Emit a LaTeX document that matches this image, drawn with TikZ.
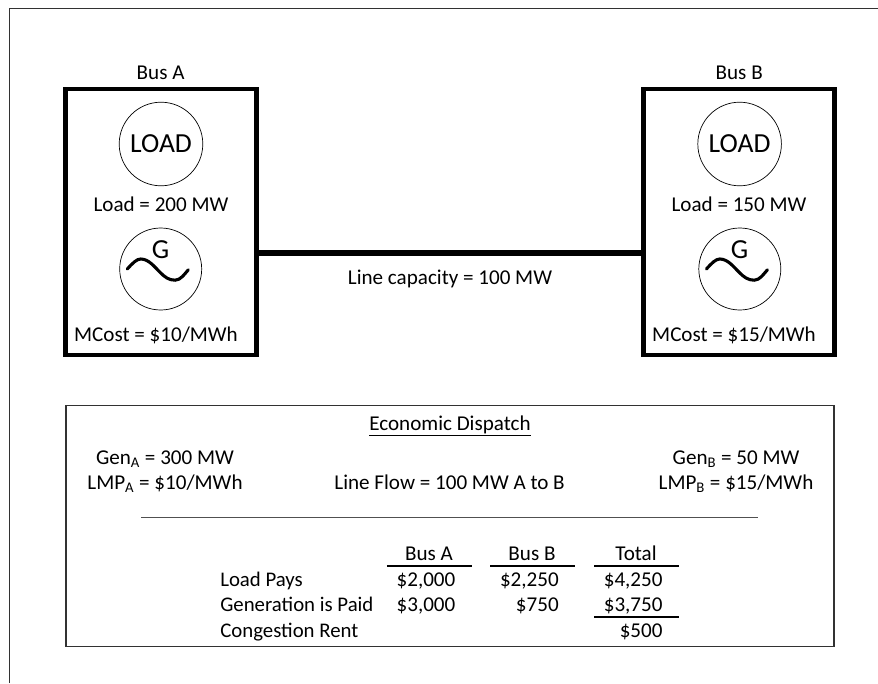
\documentclass[tikz,border=0pt]{standalone}
\usepackage{fontspec}
\setmainfont{Carlito}
\usetikzlibrary{positioning,calc}
\definecolor{framegray}{RGB}{50,50,50}
\definecolor{sepgray}{RGB}{80,80,80}
\begin{document}
\begin{tikzpicture}[
  bus/.style={rectangle, draw=black, line width=3.2pt, outer sep=0pt,
              minimum width=4.775cm, minimum height=6.65cm},
  device/.style={circle, draw=black, line width=0.5pt, minimum size=2.05cm,
                 inner sep=0pt, font=\fontsize{19.6}{22}\selectfont},
  lbl/.style={font=\fontsize{15}{17}\selectfont, anchor=base, inner sep=0pt},
  sym/.style={font=\fontsize{19.6}{22}\selectfont, anchor=base, inner sep=0pt},
  num/.style={font=\fontsize{15}{17}\selectfont, anchor=base east, inner sep=0pt},
  rowlbl/.style={font=\fontsize{14.8}{17}\selectfont, anchor=base west, inner sep=0pt},
  conn/.style={line width=4pt, draw=black},
  frame/.style={draw=framegray, line width=1pt},
  rule/.style={draw=black, line width=1.3pt},
  wave/.pic={\draw[line width=2.2pt, line cap=round]
    (-0.835,0) .. controls (-0.7,0.15) and (-0.6,0.25) .. (-0.5,0.25)
      .. controls (-0.3,0.25) and (-0.15,0.05) .. (-0.02,-0.08)
      .. controls (0.1,-0.2) and (0.2,-0.28) .. (0.36,-0.28)
      .. controls (0.5,-0.28) and (0.6,-0.12) .. (0.69,-0.02);}
]
\useasboundingbox (0,0) rectangle (21.95,17.075);
% page frame
\coordinate (pgbl) at (0.24,0);
\coordinate (pgtl) at (0.24,16.86);
\coordinate (pgtr) at (21.95,16.86);
\draw[frame] (pgbl) -- (pgtl) -- (pgtr);

% buses
\node[bus] (busA) at (4.025,11.525) {};
\node[bus] (busB) at (18.475,11.525) {};
\node[lbl] (nameA) at (4.015,15.08) {Bus A};
\node[lbl] (nameB) at (18.48,15.08) {Bus B};

\node[device, minimum size=2.09cm] (loadA) at (4.025,13.475) {LOAD};
\node[device, minimum size=2.09cm] (loadB) at (18.49,13.475) {LOAD};
\node[lbl] (demandA) at (4.025,11.8) {Load = 200 MW};
\node[lbl] (demandB) at (18.475,11.8) {Load = 150 MW};

\node[device] (genA) at (4.0175,10.35) {};
\node[device] (genB) at (18.495,10.35) {};
\node[sym] (symA) at (4.015,10.62) {G};
\node[sym] (symB) at (18.49,10.62) {G};
\pic at (genA) {wave};
\pic at (genB) {wave};
\node[lbl] (costA) at (3.9,8.55) {MCost = \$10/MWh};
\node[lbl] (costB) at (18.35,8.55) {MCost = \$15/MWh};

% line between buses
\coordinate (tap) at (11,10.75);
\draw[conn] (busA.east |- tap) -- (busB.west |- tap);
\node[lbl] (capacity) at (11.25,9.96) {Line capacity = 100 MW};

% dispatch box
\node[frame, rectangle, outer sep=0pt, minimum width=19.19cm, minimum height=6.035cm] (dispatch)
  at (11.25,3.925) {};
\node[lbl] (title) at (11.25,6.325) {\underline{Economic Dispatch}};
\node[lbl] (genAval) at (4.125,5.475) {Gen$_{\mathrm{A}}$ = 300 MW};
\node[lbl] (lmpAval) at (4.125,4.85) {LMP$_{\mathrm{A}}$ = \$10/MWh};
\node[lbl] (flow) at (11.24,4.85) {Line Flow = 100 MW A to B};
\node[lbl] (genBval) at (18.4,5.475) {Gen$_{\mathrm{B}}$ = 50 MW};
\node[lbl] (lmpBval) at (18.4,4.85) {LMP$_{\mathrm{B}}$ = \$15/MWh};
\coordinate (sepL) at (3.525,4.14);
\coordinate (sepR) at (18.95,4.14);
\draw[draw=sepgray, line width=1pt] (sepL) -- (sepR);

% payments table
\node[lbl] (headA) at (10.725,3.075) {Bus A};
\node[lbl] (headB) at (13.3,3.075) {Bus B};
\node[lbl] (headT) at (15.9,3.075) {Total};
\coordinate (ruleA1) at (9.67,2.93);
\coordinate (ruleA2) at (11.79,2.93);
\coordinate (ruleB1) at (12.25,2.93);
\coordinate (ruleB2) at (14.375,2.93);
\coordinate (ruleT1) at (14.85,2.93);
\coordinate (ruleT2) at (16.975,2.93);
\coordinate (ruleS1) at (14.85,1.65);
\coordinate (ruleS2) at (16.975,1.65);
\draw[rule] (ruleA1) -- (ruleA2);
\draw[rule] (ruleB1) -- (ruleB2);
\draw[rule] (ruleT1) -- (ruleT2);
\draw[rule] (ruleS1) -- (ruleS2);

\node[rowlbl] (rowload) at (5.5,2.425) {Load Pays};
\node[rowlbl] (rowgen) at (5.5,1.79) {Generation is Paid};
\node[rowlbl] (rowrent) at (5.5,1.15) {Congestion Rent};
\node[num] (payA) at (11.39,2.425) {\$2,000};
\node[num] (payB) at (13.975,2.425) {\$2,250};
\node[num] (payT) at (16.57,2.425) {\$4,250};
\node[num] (paidA) at (11.39,1.79) {\$3,000};
\node[num] (paidB) at (13.975,1.79) {\$750};
\node[num] (paidT) at (16.57,1.79) {\$3,750};
\node[num] (rent) at (16.57,1.15) {\$500};
\end{tikzpicture}
\end{document}
